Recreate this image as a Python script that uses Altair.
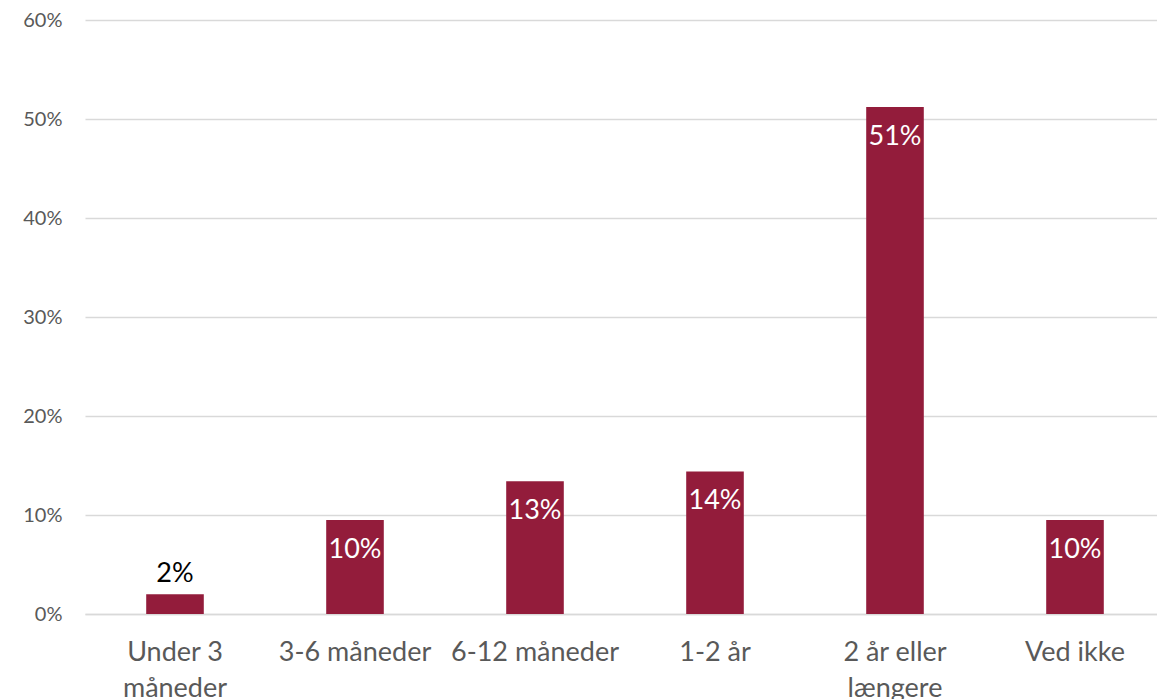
import altair as alt
import pandas as pd

categories = ["Under 3\nmåneder", "3-6 måneder", "6-12 måneder", "1-2 år", "2 år eller\nlængere", "Ved ikke"]
values = [0.020, 0.095, 0.134, 0.144, 0.512, 0.095]
labels = ["2%", "10%", "13%", "14%", "51%", "10%"]
inside = [False, True, True, True, True, True]

df = pd.DataFrame({"cat": categories, "val": values, "lab": labels, "inside": inside})

FONT = "Lato"
BAR = "#931C3B"

xscale = alt.Scale(paddingInner=0.68, paddingOuter=0.34, range=[0, 1080])

x = alt.X("cat:N", sort=categories, title=None, scale=xscale,
          axis=alt.Axis(labelExpr="split(datum.label, '\\n')", labelAngle=0,
                        labelFont=FONT, labelFontSize=27, labelColor="#595959",
                        labelPadding=25, labelLineHeight=36, ticks=False,
                        domainColor="#D9D9D9", domainWidth=1.5, grid=False))
y = alt.Y("val:Q", title=None,
          scale=alt.Scale(domain=[0, 0.6]),
          axis=alt.Axis(format=".0%", values=[0, 0.1, 0.2, 0.3, 0.4, 0.5, 0.6],
                        labelFont=FONT, labelFontSize=20, labelColor="#595959",
                        labelPadding=23, ticks=False, domain=False,
                        gridColor="#D9D9D9", gridWidth=1.5))

bars = alt.Chart(df).mark_bar(color=BAR).encode(x=x, y=y)

txt_in = alt.Chart(df).transform_filter("datum.inside").mark_text(
    baseline="top", dy=17, font=FONT, fontSize=27, color="white"
).encode(x=alt.X("cat:N", sort=categories), y="val:Q", text="lab:N")

txt_out = alt.Chart(df).transform_filter("!datum.inside").mark_text(
    baseline="bottom", dy=-6, font=FONT, fontSize=27, color="black"
).encode(x=alt.X("cat:N", sort=categories), y="val:Q", text="lab:N")

chart = alt.layer(bars, txt_in, txt_out).properties(
    width=1072, height=594,
    padding={"left": 77, "top": 12, "right": 0, "bottom": 85},
    autosize=alt.AutoSizeParams(type="none"),
).configure_view(stroke=None)

chart.save("out.html", embed_options={"renderer": "svg", "actions": False})
